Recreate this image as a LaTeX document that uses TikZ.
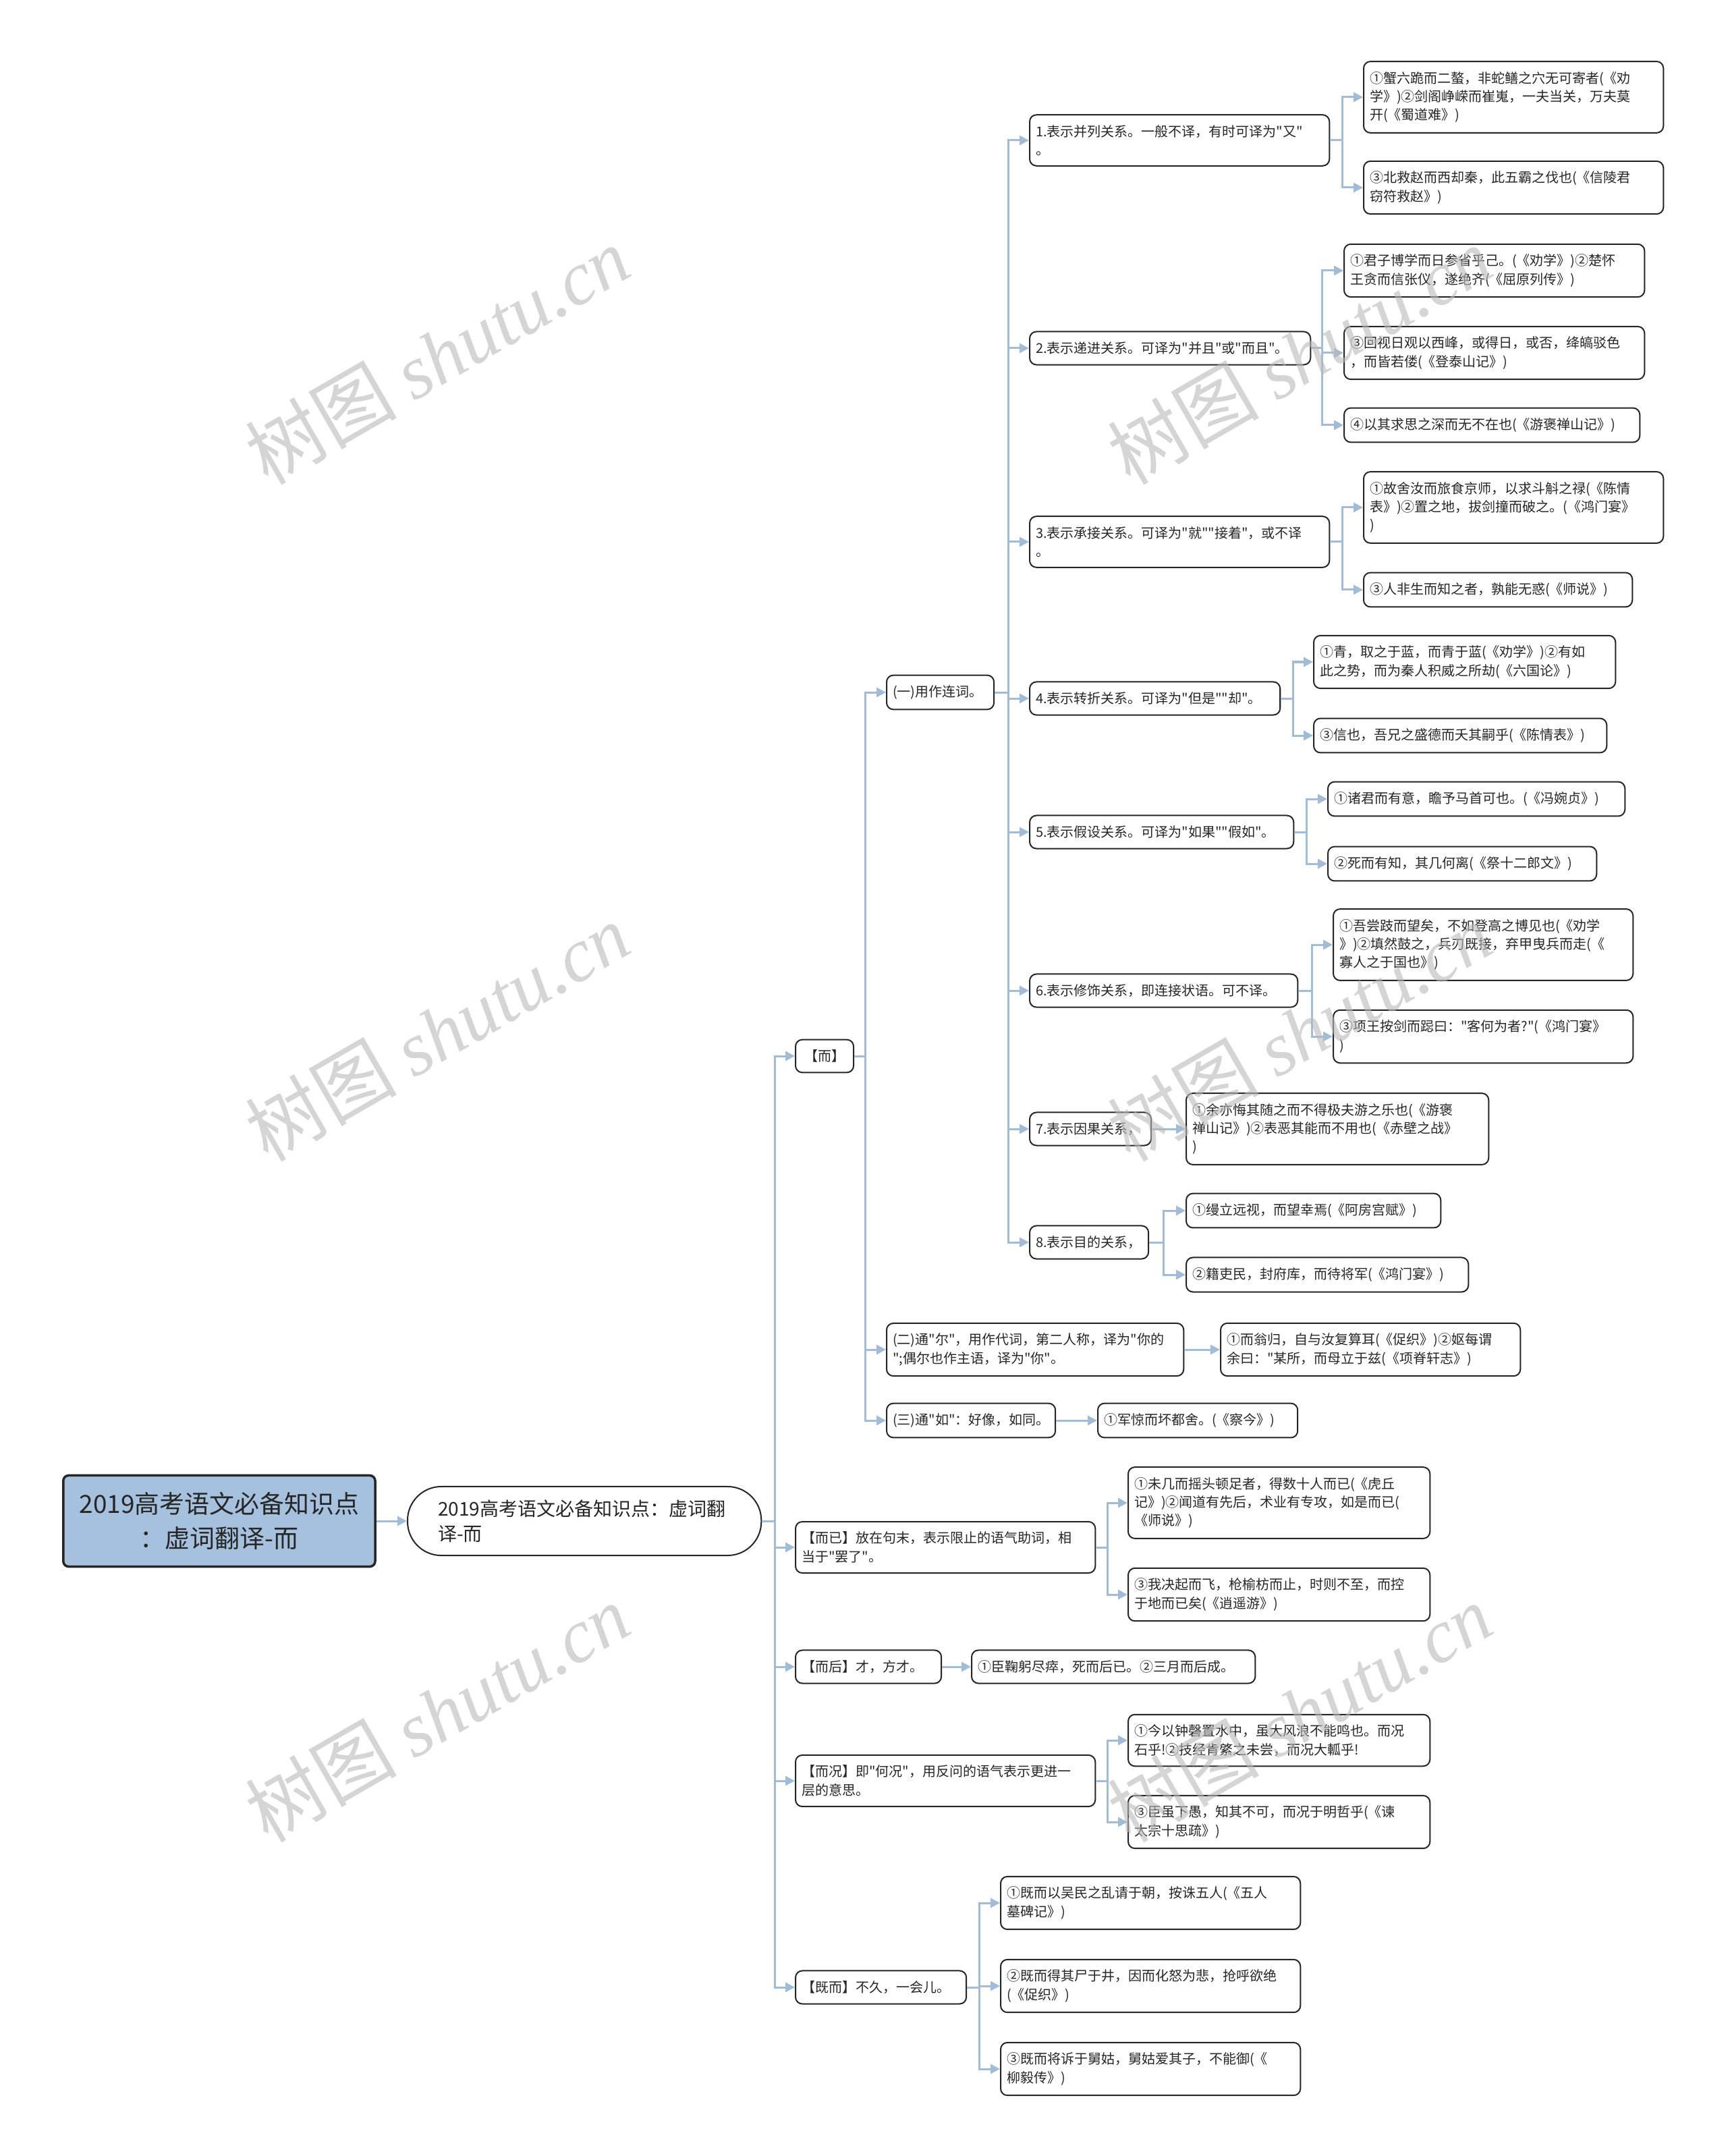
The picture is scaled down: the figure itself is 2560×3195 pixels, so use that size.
\documentclass[tikz,border=0pt]{standalone}
\usepackage{fontspec}
\setmainfont{Noto Sans CJK SC}[Ligatures=TeXOff]
\newfontfamily\wmserif{Liberation Serif}
\usepackage{tikz}
\usetikzlibrary{arrows.meta,positioning}
\definecolor{linkblue}{RGB}{160,188,214}
\definecolor{rootblue}{RGB}{165,193,221}
\definecolor{inkgray}{RGB}{38,38,38}

\begin{document}
\begin{tikzpicture}[
  x=0.01cm, y=-0.01cm,
  box/.style={draw=black!85, rounded corners=0.1cm, line width=0.02cm, fill=white,
              anchor=west, align=left, inner xsep=0.09cm, inner ysep=0.15cm,
              minimum height=0.49cm, text=inkgray,
              font=\fontsize{5.69pt}{7.8pt}\selectfont},
  link/.style={draw=linkblue, line width=0.03cm, -{Triangle[length=0.14cm, width=0.14cm]}},
  stamp/.style={rotate=30, text=gray!55, opacity=0.6, font=\fontsize{32pt}{32pt}\selectfont},
]
\useasboundingbox[fill=white] (0,0) rectangle (2560,3195);

% Root and title
\node[box, fill=rootblue, line width=0.035cm, rounded corners=0.08cm, align=center,
      minimum width=4.62cm, minimum height=1.35cm,
      font=\fontsize{10.5pt}{14.5pt}\selectfont] (root) at (92,2254)
  {2019高考语文必备知识点\\：虚词翻译-而};
\node[box, rounded corners=0.5cm, inner xsep=0.45cm, text width=4.34cm,
      minimum height=1.02cm, font=\fontsize{7.97pt}{10.5pt}\selectfont] (title) at (603,2254)
  {2019高考语文必备知识点：虚词翻\\译-而};
\draw[link] (root.east) -- (title.west);

% Level 2: the five entries
\node[box, align=center, minimum width=0.86cm, minimum height=0.45cm] (er) at (1178,1565) {【而】};
\node[box, text width=4.26cm] (eryi) at (1178,2293) {【而已】放在句末，表示限止的语气助词，相\\当于"罢了"。};
\node[box, text width=1.98cm] (erhou) at (1178,2470) {【而后】才，方才。};
\node[box, text width=4.26cm] (erkuang) at (1178,2639) {【而况】即"何况"，用反问的语气表示更进一\\层的意思。};
\node[box, text width=2.35cm] (jier) at (1178,2945) {【既而】不久，一会儿。};
\foreach \n in {er,eryi,erhou,erkuang,jier}
  \draw[link] (title.east) -- ++(19,0) |- (\n.west);

% Level 3: uses of er
\node[box, text width=1.41cm] (yi) at (1313,1026) {(一)用作连词。};
\node[box, text width=4.22cm] (ertong) at (1313,2000) {(二)通"尔"，用作代词，第二人称，译为"你的\\";偶尔也作主语，译为"你"。};
\node[box, text width=2.32cm] (rutong) at (1313,2105) {(三)通"如"：好像，如同。};
\foreach \n in {yi,ertong,rutong}
  \draw[link] (er.east) -- ++(16,0) |- (\n.west);

% Level 4: eight relations
\node[box, text width=4.26cm] (g1) at (1525,208) {1.表示并列关系。一般不译，有时可译为"又"\\。};
\node[box, text width=3.98cm] (g2) at (1525,516) {2.表示递进关系。可译为"并且"或"而且"。};
\node[box, text width=4.26cm] (g3) at (1525,803) {3.表示承接关系。可译为"就""接着"，或不译\\。};
\node[box, text width=3.53cm] (g4) at (1525,1035) {4.表示转折关系。可译为"但是""却"。};
\node[box, text width=3.73cm] (g5) at (1525,1233) {5.表示假设关系。可译为"如果""假如"。};
\node[box, text width=3.79cm] (g6) at (1525,1468) {6.表示修饰关系，即连接状语。可不译。};
\node[box, text width=1.62cm] (g7) at (1525,1673) {7.表示因果关系，};
\node[box, text width=1.58cm] (g8) at (1525,1841) {8.表示目的关系，};
\foreach \n in {g1,g2,g3,g4,g5,g6,g7,g8}
  \draw[link] (yi.east) -- ++(20,0) |- (\n.west);

% Examples
\node[box, text width=4.26cm] (l1a) at (2020,144) {①蟹六跪而二螯，非蛇鳝之穴无可寄者(《劝\\学》)②剑阁峥嵘而崔嵬，一夫当关，万夫莫\\开(《蜀道难》)};
\node[box, text width=4.26cm] (l1b) at (2020,278) {③北救赵而西却秦，此五霸之伐也(《信陵君\\窃符救赵》)};
\node[box, text width=4.27cm] (l2a) at (1991,401) {①君子博学而日参省乎己。(《劝学》)②楚怀\\王贪而信张仪，遂绝齐(《屈原列传》)};
\node[box, text width=4.27cm] (l2b) at (1991,523) {③回视日观以西峰，或得日，或否，绛皜驳色\\，而皆若偻(《登泰山记》)};
\node[box, text width=4.20cm] (l2c) at (1991,630) {④以其求思之深而无不在也(《游褒禅山记》)};
\node[box, text width=4.26cm] (l3a) at (2020,752) {①故舍汝而旅食京师，以求斗斛之禄(《陈情\\表》)②置之地，拔剑撞而破之。(《鸿门宴》\\)};
\node[box, text width=3.80cm] (l3b) at (2020,874) {③人非生而知之者，孰能无惑(《师说》)};
\node[box, text width=4.29cm] (l4a) at (1946,981) {①青，取之于蓝，而青于蓝(《劝学》)②有如\\此之势，而为秦人积威之所劫(《六国论》)};
\node[box, text width=4.16cm] (l4b) at (1946,1090) {③信也，吾兄之盛德而夭其嗣乎(《陈情表》)};
\node[box, text width=4.22cm] (l5a) at (1967,1184) {①诸君而有意，瞻予马首可也。(《冯婉贞》)};
\node[box, text width=3.80cm] (l5b) at (1967,1280) {②死而有知，其几何离(《祭十二郎文》)};
\node[box, text width=4.26cm] (l6a) at (1975,1400) {①吾尝跂而望矣，不如登高之博见也(《劝学\\》)②填然鼓之，兵刃既接，弃甲曳兵而走(《\\寡人之于国也》)};
\node[box, text width=4.26cm] (l6b) at (1975,1536) {③项王按剑而跽曰："客何为者?"(《鸿门宴》\\)};
\node[box, text width=4.30cm] (l7a) at (1757,1673) {①余亦悔其随之而不得极夫游之乐也(《游褒\\禅山记》)②表恶其能而不用也(《赤壁之战》\\)};
\node[box, text width=3.59cm] (l8a) at (1757,1794) {①缦立远视，而望幸焉(《阿房宫赋》)};
\node[box, text width=4.00cm] (l8b) at (1757,1889) {②籍吏民，封府库，而待将军(《鸿门宴》)};
\node[box, text width=4.26cm] (lr2) at (1808,2000) {①而翁归，自与汝复算耳(《促织》)②妪每谓\\余曰："某所，而母立于兹(《项脊轩志》)};
\node[box, text width=2.78cm] (lr3) at (1626,2105) {①军惊而坏都舍。(《察今》)};
\node[box, text width=4.29cm] (lya) at (1671,2227) {①未几而摇头顿足者，得数十人而已(《虎丘\\记》)②闻道有先后，术业有专攻，如是而已(\\《师说》)};
\node[box, text width=4.29cm] (lyb) at (1671,2363) {③我决起而飞，枪榆枋而止，时则不至，而控\\于地而已矣(《逍遥游》)};
\node[box, text width=4.02cm] (lh) at (1439,2470) {①臣鞠躬尽瘁，死而后已。②三月而后成。};
\node[box, text width=4.29cm] (lka) at (1671,2579) {①今以钟磬置水中，虽大风浪不能鸣也。而况\\石乎!②技经肯綮之未尝，而况大軱乎!};
\node[box, text width=4.29cm] (lkb) at (1671,2700) {③臣虽下愚，知其不可，而况于明哲乎(《谏\\太宗十思疏》)};
\node[box, text width=4.26cm] (lja) at (1482,2820) {①既而以吴民之乱请于朝，按诛五人(《五人\\墓碑记》)};
\node[box, text width=4.26cm] (ljb) at (1482,2943) {②既而得其尸于井，因而化怒为悲，抢呼欲绝\\(《促织》)};
\node[box, text width=4.26cm] (ljc) at (1482,3066) {③既而将诉于舅姑，舅姑爱其子，不能御(《\\柳毅传》)};

% Connectors to examples
\foreach \n in {l1a,l1b} \draw[link] (g1.east) -- ++(18,0) |- (\n.west);
\foreach \n in {l2a,l2b,l2c} \draw[link] (g2.east) -- ++(16,0) |- (\n.west);
\foreach \n in {l3a,l3b} \draw[link] (g3.east) -- ++(18,0) |- (\n.west);
\foreach \n in {l4a,l4b} \draw[link] (g4.east) -- ++(18,0) |- (\n.west);
\foreach \n in {l5a,l5b} \draw[link] (g5.east) -- ++(18,0) |- (\n.west);
\foreach \n in {l6a,l6b} \draw[link] (g6.east) -- ++(20,0) |- (\n.west);
\draw[link] (g7.east) -- (l7a.west);
\foreach \n in {l8a,l8b} \draw[link] (g8.east) -- ++(21,0) |- (\n.west);
\draw[link] (ertong.east) -- (lr2.west);
\draw[link] (rutong.east) -- (lr3.west);
\foreach \n in {lya,lyb} \draw[link] (eryi.east) -- ++(17,0) |- (\n.west);
\draw[link] (erhou.east) -- (lh.west);
\foreach \n in {lka,lkb} \draw[link] (erkuang.east) -- ++(17,0) |- (\n.west);
\foreach \n in {lja,ljb,ljc} \draw[link] (jier.east) -- ++(18,0) |- (\n.west);

% Watermarks
\foreach \wx/\wy [count=\i] in {648/526, 648/1529, 648/2538, 1926/526, 1926/1529, 1926/2538}
  \node[stamp] (wm\i) at (\wx,\wy) {树图 {\wmserif\itshape shutu.cn}};
\end{tikzpicture}
\end{document}
